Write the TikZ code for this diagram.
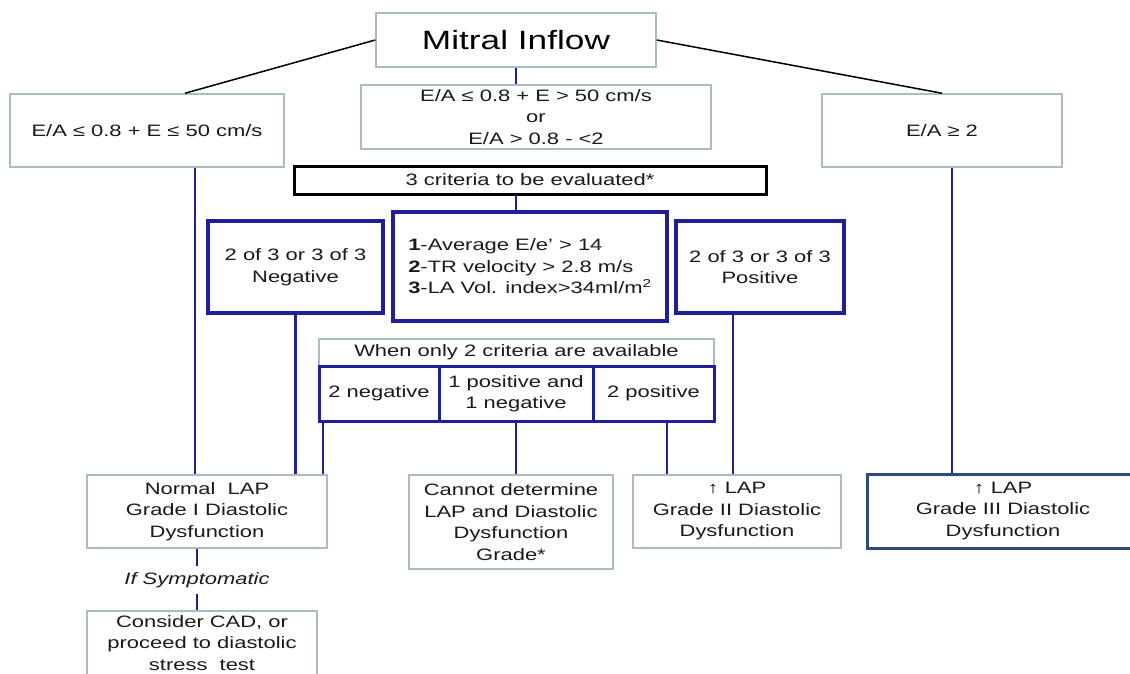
\documentclass[tikz,border=0pt]{standalone}
\usepackage{fontspec}
\setmainfont{Liberation Sans}[FakeStretch=1.33]
\usetikzlibrary{calc}
\definecolor{boxgray}{HTML}{A8BDBF}
\definecolor{navy}{HTML}{1F1F99}
\definecolor{steel}{HTML}{2D4B7D}
\definecolor{ink}{HTML}{1A1A1A}

\begin{document}
\begin{tikzpicture}[x=1pt,y=-1pt,
  font=\fontsize{16.5}{21.5}\selectfont,text=ink,
  sz/.style 2 args={minimum width=#1pt,minimum height=#2pt},
  plainbox/.style={draw=boxgray,line width=1.5pt,fill=white,align=center,inner sep=0pt},
  navybox/.style={draw=navy,line width=4pt,fill=white,align=center,inner sep=0pt},
  pickbox/.style={draw=navy,line width=3pt,align=center,inner sep=0pt},
  link/.style={navy,line width=2.3pt},
  slant/.style={black,line width=1.5pt}]
\useasboundingbox (0,0) rectangle (1130,673);
\fill[white] (0,0) rectangle (1130,673);
% top level
\node[plainbox,sz={280}{54},font=\fontsize{26.5}{30}\selectfont,text=black] (mitral) at (516,40) {Mitral Inflow};
\node[plainbox,sz={274}{73}] (eaLow) at (147,130.5) {E/A ≤ 0.8 + E ≤ 50 cm/s};
\node[plainbox,sz={350}{64}] (eaMid) at (536,117) {E/A ≤ 0.8 + E > 50 cm/s\\or\\E/A > 0.8 - <2};
\node[plainbox,sz={240}{73}] (eaHigh) at (942,130.5) {E/A ≥ 2};
\draw[slant] (mitral.west) -- ([xshift=38pt]eaLow.north);
\draw[slant] (mitral.east) -- (eaHigh.north);
\draw[link] (mitral.south) -- (mitral.south |- eaMid.north);
% criteria
\node[draw=black,line width=3pt,sz={472}{28},inner sep=0pt] (crit3) at (530,180) {\raisebox{-5pt}{3 criteria to be evaluated*}};
\node[navybox,align=left,sz={274}{109}] (crit) at (530,266.5) {\textbf{1}-Average E/e' > 14\\\textbf{2}-TR velocity > 2.8 m/s\\\textbf{3}-LA Vol. index>34ml/m\textsuperscript{2}};
\node[navybox,sz={175}{92}] (neg) at (295.5,267) {2 of 3 or 3 of 3\\Negative};
\node[navybox,sz={168}{92}] (pos) at (760,267) {2 of 3 or 3 of 3\\Positive};
\draw[link] (crit3.south -| mitral.south) -- (crit.north -| mitral.south);
% only two criteria
\node[plainbox,sz={395}{27}] (avail) at (516.5,352.5) {When only 2 criteria are available};
\node[pickbox,sz={120}{55}] (neg2) at (379,393.5) {2 negative};
\node[pickbox,sz={154}{55}] (mixed) at (516,393.5) {1 positive and\\1 negative};
\node[pickbox,sz={121}{55}] (pos2) at (653.5,393.5) {2 positive};
% outcomes
\node[plainbox,sz={240}{73}] (normal) at (207,511.5) {Normal\ \ LAP\\Grade I Diastolic\\Dysfunction};
\node[plainbox,sz={204}{94}] (cannot) at (511,522) {Cannot determine\\LAP and Diastolic\\Dysfunction\\Grade*};
\node[plainbox,sz={208}{73}] (grade2) at (737,511.5) {↑ LAP\\Grade II Diastolic\\Dysfunction};
\node[draw=steel,line width=3pt,fill=white,align=center,inner sep=0pt,sz={272}{74}] (grade3) at (1003,511) {↑ LAP\\Grade III Diastolic\\Dysfunction};
\node[inner xsep=0pt,inner ysep=6pt,font=\fontsize{16.5}{21.5}\selectfont\itshape] (sympt) at (197,580) {If Symptomatic};
\node[plainbox,sz={230}{64}] (cad) at (202,643) {Consider CAD, or\\proceed to diastolic\\stress\ \ test};
% connectors
\draw[link] ([xshift=-12pt]normal.north) -- ([xshift=-12pt]normal.north |- eaLow.south);
\draw[link] (neg.south) -- (neg.south |- normal.north);
\draw[link] ([xshift=-56pt]neg2.south) -- ([xshift=-56pt]neg2.south |- normal.north);
\draw[link] (mixed.south) -- (mixed.south |- cannot.north);
\draw[link] ([xshift=13.5pt]pos2.south) -- ([xshift=13.5pt]pos2.south |- grade2.north);
\draw[link] ([xshift=-27pt]pos.south) -- ([xshift=-27pt]pos.south |- grade2.north);
\draw[link] ([xshift=10pt]eaHigh.south) -- ([xshift=10pt]eaHigh.south |- grade3.north);
\draw[link] (sympt.north -| normal.south) ++(-10pt,0) -- ([xshift=-10pt]normal.south);
\draw[link] ([xshift=-5pt]cad.north) -- ([xshift=-5pt]cad.north |- sympt.south);
\end{tikzpicture}
\end{document}
